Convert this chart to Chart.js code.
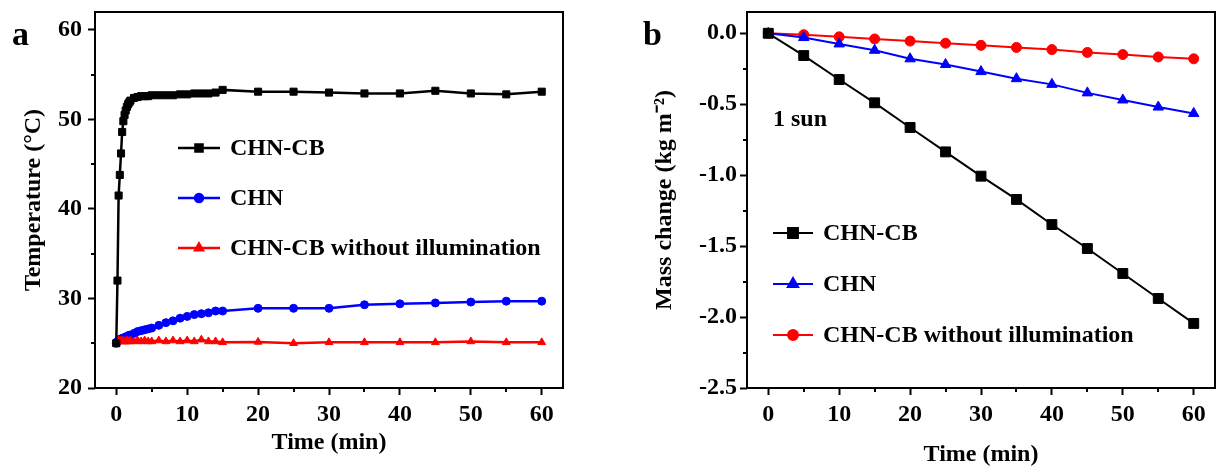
<!DOCTYPE html>
<html>
<head>
<meta charset="utf-8">
<script src="https://cdn.jsdelivr.net/npm/chart.js@4.4.1/dist/chart.umd.min.js"></script>
<style>
    body { margin: 0; background: #fff; }
    #painel { position: relative; width: 1219px; height: 474px; }
    #painel canvas { position: absolute; top: 0; }
</style>
</head>
<body>
<div id="painel">
    <canvas id="grafico-temperatura" width="600" height="474" style="left:0"></canvas>
    <canvas id="grafico-massa" width="619" height="474" style="left:600px"></canvas>
</div>
<script>
// Tempos de medição da temperatura (min)
const tempoTemp = [0, 0.17, 0.33, 0.5, 0.67, 0.83, 1, 1.17, 1.33, 1.5, 1.67, 1.83, 2, 2.5, 3, 3.5, 4, 4.5, 5,
    6, 7, 8, 9, 10, 11, 12, 13, 14, 15, 20, 25, 30, 35, 40, 45, 50, 55, 60];

// Temperatura (°C)
const tempCHNCB = [25.0, 32.0, 41.5, 43.8, 46.2, 48.6, 49.8, 50.5, 51.0, 51.4, 51.7, 51.9, 52.1, 52.4, 52.5, 52.6, 52.6, 52.6, 52.7,
    52.7, 52.7, 52.7, 52.8, 52.8, 52.9, 52.9, 52.9, 53.0, 53.3, 53.1, 53.1, 53.0, 52.9, 52.9, 53.2, 52.9, 52.8, 53.1];
const tempCHN = [25.0, 25.2, 25.3, 25.4, 25.5, 25.5, 25.6, 25.6, 25.7, 25.7, 25.8, 25.9, 25.9, 26.1, 26.3, 26.4, 26.5, 26.6, 26.7,
    27.0, 27.3, 27.5, 27.8, 28.0, 28.2, 28.3, 28.4, 28.6, 28.6, 28.9, 28.9, 28.9, 29.3, 29.4, 29.5, 29.6, 29.7, 29.7];
const tempSemLuz = [25.0, 25.2, 25.3, 25.2, 25.3, 25.2, 25.3, 25.2, 25.2, 25.3, 25.2, 25.2, 25.3, 25.2, 25.3, 25.2, 25.3, 25.2, 25.2,
    25.3, 25.2, 25.3, 25.2, 25.3, 25.2, 25.4, 25.2, 25.2, 25.1, 25.15, 25.0, 25.1, 25.1, 25.1, 25.1, 25.2, 25.1, 25.1];

// Tempos de pesagem (min) e variação de massa (kg m-2)
const tempoMassa = [0, 5, 10, 15, 20, 25, 30, 35, 40, 45, 50, 55, 60];
const massaCHNCB = [0, -0.157, -0.326, -0.49, -0.664, -0.836, -1.007, -1.171, -1.348, -1.517, -1.693, -1.869, -2.045];
const massaCHN = [0, -0.03, -0.075, -0.12, -0.18, -0.22, -0.27, -0.32, -0.36, -0.42, -0.47, -0.52, -0.565];
const massaSemLuz = [0, -0.01, -0.025, -0.04, -0.055, -0.07, -0.085, -0.1, -0.115, -0.135, -0.15, -0.167, -0.18];

// Rótulos das séries
const nomesSeries = ["CHN-CB", "CHN", "CHN-CB without illumination"];

const fonteSerif = "'Liberation Serif', 'Times New Roman', serif";
Chart.defaults.font.family = fonteSerif;
Chart.defaults.font.weight = "bold";
Chart.defaults.color = "#000";

function pontos(xs, ys) {
    return xs.map((x, i) => ({ x: x, y: ys[i] }));
}

// Moldura, ticks menores, legenda e textos soltos
const molduraPlugin = {
    id: "moldura",
    afterDraw(chart, args, opts) {
        const { ctx, chartArea: area, scales } = chart;
        ctx.save();
        ctx.strokeStyle = "#000";
        ctx.lineWidth = 2;
        ctx.strokeRect(area.left, area.top, area.right - area.left, area.bottom - area.top);

        // ticks menores
        ctx.beginPath();
        opts.menoresX.forEach((v) => {
            const px = Math.round(scales.x.getPixelForValue(v));
            ctx.moveTo(px, area.bottom);
            ctx.lineTo(px, area.bottom + 4);
        });
        opts.menoresY.forEach((v) => {
            const py = Math.round(scales.y.getPixelForValue(v));
            ctx.moveTo(area.left, py);
            ctx.lineTo(area.left - 4, py);
        });
        ctx.stroke();

        // legenda
        const leg = opts.legenda;
        ctx.font = "bold 24px " + fonteSerif;
        ctx.textBaseline = "middle";
        ctx.textAlign = "left";
        leg.ordem.forEach((idx, i) => {
            const ds = chart.data.datasets[idx];
            const y = leg.y + i * leg.passo;
            ctx.strokeStyle = ds.borderColor;
            ctx.fillStyle = ds.borderColor;
            ctx.lineWidth = ds.borderWidth;
            ctx.beginPath();
            ctx.moveTo(leg.x, y);
            ctx.lineTo(leg.x + leg.largura, y);
            ctx.stroke();
            Chart.helpers.drawPoint(ctx, {
                pointStyle: ds.pointStyle,
                radius: ds.pointRadius,
                rotation: 0,
                borderWidth: 1
            }, leg.x + leg.largura / 2, y);
            ctx.fillStyle = "#000";
            ctx.fillText(ds.label, leg.x + leg.largura + 10, y + 1);
        });

        // textos soltos (letra do painel etc.)
        opts.textos.forEach((t) => {
            ctx.font = "bold " + t.tamanho + "px " + fonteSerif;
            ctx.textBaseline = "alphabetic";
            ctx.fillStyle = "#000";
            ctx.fillText(t.texto, t.x, t.y);
        });
        ctx.restore();
    }
};

// Eixo com tamanho fixo; zera o padding que o Chart.js reserva para os rótulos das pontas
function eixo(min, max, passo, fixar, titulo, tituloPad, tickPad, formato) {
    return {
        type: "linear",
        min: min,
        max: max,
        border: { display: false },
        grid: {
            drawOnChartArea: false,
            drawTicks: true,
            tickLength: 7,
            tickWidth: 2,
            tickColor: "#000"
        },
        ticks: {
            stepSize: passo,
            includeBounds: false,
            padding: tickPad,
            font: { size: 24, weight: "bold" },
            color: "#000",
            callback: formato || ((v) => v)
        },
        title: {
            display: true,
            text: titulo,
            font: { size: 24, weight: "bold" },
            color: "#000",
            padding: tituloPad
        },
        afterFit: (s) => {
            fixar(s);
            s.paddingTop = 0;
            s.paddingBottom = 0;
            s.paddingLeft = 0;
            s.paddingRight = 0;
        }
    };
}

function serie(rotulo, dados, cor, estilo, raio, espessura, ordem) {
    return {
        label: rotulo,
        data: dados,
        borderColor: cor,
        backgroundColor: cor,
        pointBackgroundColor: cor,
        pointBorderColor: cor,
        pointStyle: estilo,
        pointRadius: raio,
        pointBorderWidth: 1,
        borderWidth: espessura,
        tension: 0,
        order: ordem
    };
}

// Painel a: temperatura
new Chart(document.getElementById("grafico-temperatura"), {
    type: "line",
    data: {
        datasets: [
            serie(nomesSeries[0], pontos(tempoTemp, tempCHNCB), "#000000", "rect", 5, 2.5, 0),
            serie(nomesSeries[1], pontos(tempoTemp, tempCHN), "#0000ff", "circle", 4, 2.5, 2),
            serie(nomesSeries[2], pontos(tempoTemp, tempSemLuz), "#ff0000", "triangle", 4.5, 2.5, 1)
        ]
    },
    options: {
        responsive: false,
        animation: false,
        layout: { autoPadding: false, padding: { left: 0, top: 12, right: 37, bottom: 0 } },
        plugins: {
            legend: { display: false },
            tooltip: { enabled: false },
            moldura: {
                menoresX: [5, 15, 25, 35, 45, 55],
                menoresY: [25, 35, 45, 55],
                legenda: { x: 178, y: 148, passo: 50, largura: 42, ordem: [0, 1, 2] },
                textos: [{ texto: "a", x: 12, y: 45, tamanho: 34 }]
            }
        },
        scales: {
            x: eixo(-3, 63, 10, (s) => { s.height = 86; }, "Time (min)", { top: 0, bottom: 17 }, 5),
            y: eixo(20, 62, 10, (s) => { s.width = 95; }, "Temperature (°C)", { top: 19, bottom: 0 }, 6)
        }
    },
    plugins: [molduraPlugin]
});

// Painel b: variação de massa
new Chart(document.getElementById("grafico-massa"), {
    type: "line",
    data: {
        datasets: [
            serie(nomesSeries[0], pontos(tempoMassa, massaCHNCB), "#000000", "rect", 7, 2, 0),
            serie(nomesSeries[1], pontos(tempoMassa, massaCHN), "#0000ff", "triangle", 6, 2, 1),
            serie(nomesSeries[2], pontos(tempoMassa, massaSemLuz), "#ff0000", "circle", 5, 2, 2)
        ]
    },
    options: {
        responsive: false,
        animation: false,
        layout: { autoPadding: false, padding: { left: 0, top: 12, right: 4, bottom: 0 } },
        plugins: {
            legend: { display: false },
            tooltip: { enabled: false },
            moldura: {
                menoresX: [5, 15, 25, 35, 45, 55],
                menoresY: [-2.25, -1.75, -1.25, -0.75, -0.25],
                legenda: { x: 173, y: 233, passo: 51, largura: 40, ordem: [0, 1, 2] },
                textos: [
                    { texto: "b", x: 43, y: 45, tamanho: 34 },
                    { texto: "1 sun", x: 173, y: 126, tamanho: 24 }
                ]
            }
        },
        scales: {
            x: eixo(-3, 63, 10, (s) => { s.height = 86; }, "Time (min)", { top: 0, bottom: 5 }, 5),
            y: eixo(-2.5, 0.15, 0.5, (s) => { s.width = 147; }, "Mass change (kg m⁻²)", { top: 50, bottom: 0 }, 3,
                (v) => v.toFixed(1))
        }
    },
    plugins: [molduraPlugin]
});
</script>
</body>
</html>
